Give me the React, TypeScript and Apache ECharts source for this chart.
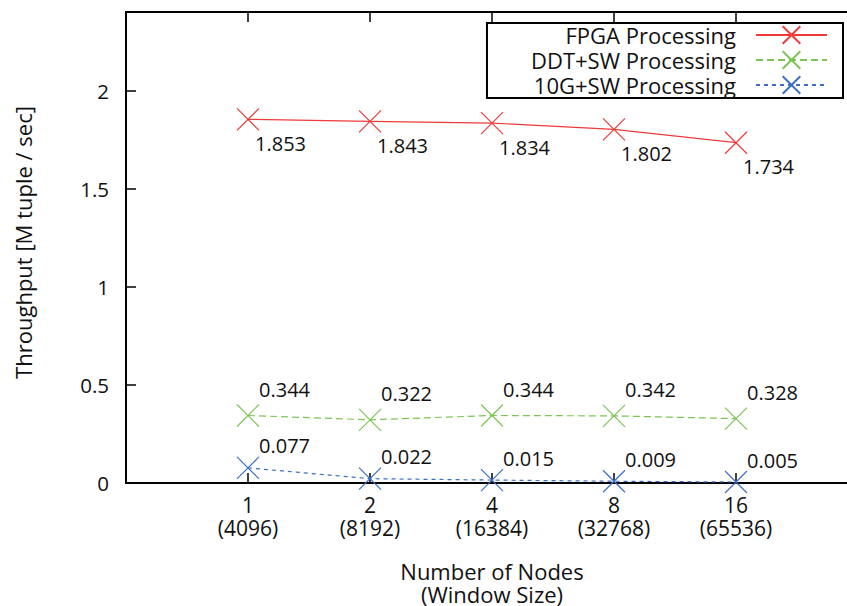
import React, { useEffect, useRef } from 'react';
import * as echarts from 'echarts';

const nodeCounts = ['1', '2', '4', '8', '16'];
const windowSizes = ['(4096)', '(8192)', '(16384)', '(32768)', '(65536)'];
const fpgaValues = [1.853, 1.843, 1.834, 1.802, 1.734];
const ddtSwValues = [0.344, 0.322, 0.344, 0.342, 0.328];
const tenGSwValues = [0.077, 0.022, 0.015, 0.009, 0.005];
const seriesNames = ['FPGA Processing', 'DDT+SW Processing', '10G+SW Processing'];
const yTickLabels = [0, 0.5, 1, 1.5, 2];

const FONT = '"Open Sans", sans-serif';
const X_SYMBOL = 'path://M0,0L20,20M20,0L0,20';

function makeSeries(name: string, values: number[], color: string, dash: any, offset: number[]) {
  return {
    name,
    type: 'line',
    data: values.map((v, i) => [i + 1, v]),
    symbol: X_SYMBOL,
    symbolSize: 22,
    showAllSymbol: true,
    itemStyle: { color: color, borderColor: color, borderWidth: 1.2 },
    lineStyle: { color: color, width: 1.2, type: dash },
    emphasis: { disabled: true },
    label: {
      show: true,
      position: 'inside',
      align: 'left',
      verticalAlign: 'middle',
      offset,
      color: '#111',
      fontSize: 20,
      fontFamily: FONT,
      formatter: (p: any) => Number(p.value[1]).toFixed(3),
    },
  };
}

export default function App() {
  const ref = useRef<HTMLDivElement>(null);
  useEffect(() => {
    if (!ref.current) return;
    const chart = echarts.init(ref.current, null, { renderer: 'svg' });
    const xLabel = (v: number) => {
      const i = Math.round(v) - 1;
      return i >= 0 && i < nodeCounts.length ? nodeCounts[i] + '\n' + windowSizes[i] : '';
    };
    const yLabel = (v: number) =>
      yTickLabels.some((t) => Math.abs(t - v) < 1e-9) ? String(v) : '';
    const axisLine = { show: true, onZero: false, lineStyle: { color: '#000', width: 2 } };
    const axisTick = { show: true, inside: true, length: 10, lineStyle: { color: '#000', width: 1.5 } };
    chart.setOption({
      animation: false,
      backgroundColor: '#fff',
      textStyle: { fontFamily: FONT },
      grid: { left: 126, top: 12, width: 732, height: 471, containLabel: false, outerBoundsMode: 'none' },
      legend: {
        orient: 'vertical',
        right: 4,
        top: 23,
        align: 'right',
        itemWidth: 71,
        itemHeight: 22,
        itemGap: 3,
        padding: [1, 15, 2, 44],
        borderColor: '#000',
        borderWidth: 2,
        backgroundColor: '#fff',
        selectedMode: false,
        textStyle: { fontSize: 22, fontFamily: FONT, color: '#111', padding: [0, 15, 0, 0] },
        data: seriesNames,
      },
      xAxis: [
        {
          type: 'value',
          position: 'bottom',
          min: 0,
          max: 6,
          interval: 1,
          axisLine,
          axisTick,
          splitLine: { show: false },
          axisLabel: { formatter: xLabel, fontSize: 21, fontFamily: FONT, color: '#111', margin: 10, lineHeight: 23 },
          name: 'Number of Nodes\n(Window Size)',
          nameLocation: 'middle',
          nameGap: 76,
          nameTextStyle: { fontSize: 22, fontFamily: FONT, color: '#111', lineHeight: 23 },
        },
        {
          type: 'value',
          position: 'top',
          min: 0,
          max: 6,
          interval: 1,
          axisLine,
          axisTick,
          splitLine: { show: false },
          axisLabel: { show: false },
        },
      ],
      yAxis: [
        {
          type: 'value',
          position: 'left',
          min: 0,
          max: 2.4,
          interval: 0.5,
          axisLine,
          axisTick,
          splitLine: { show: false },
          axisLabel: { formatter: yLabel, fontSize: 20.5, fontFamily: FONT, color: '#111', margin: 17 },
          name: 'Throughput [M tuple / sec]',
          nameLocation: 'middle',
          nameGap: 92,
          nameTextStyle: { fontSize: 22, fontFamily: FONT, color: '#111', padding: [0, 0, 0, 10] },
        },
        {
          type: 'value',
          position: 'right',
          min: 0,
          max: 2.4,
          interval: 0.5,
          axisLine,
          axisTick,
          splitLine: { show: false },
          axisLabel: { show: false },
        },
      ],
      series: [
        makeSeries(seriesNames[0], fpgaValues, '#f03a3a', 'solid', [7, 24]),
        makeSeries(seriesNames[1], ddtSwValues, '#7cc554', [7, 4], [11, -26]),
        makeSeries(seriesNames[2], tenGSwValues, '#3b6fc6', [4, 4], [11, -22]),
      ],
    });
    return () => chart.dispose();
  }, []);
  return <div ref={ref} style={{ position: 'absolute', left: 0, top: 0, width: 847, height: 606 }} />;
}
